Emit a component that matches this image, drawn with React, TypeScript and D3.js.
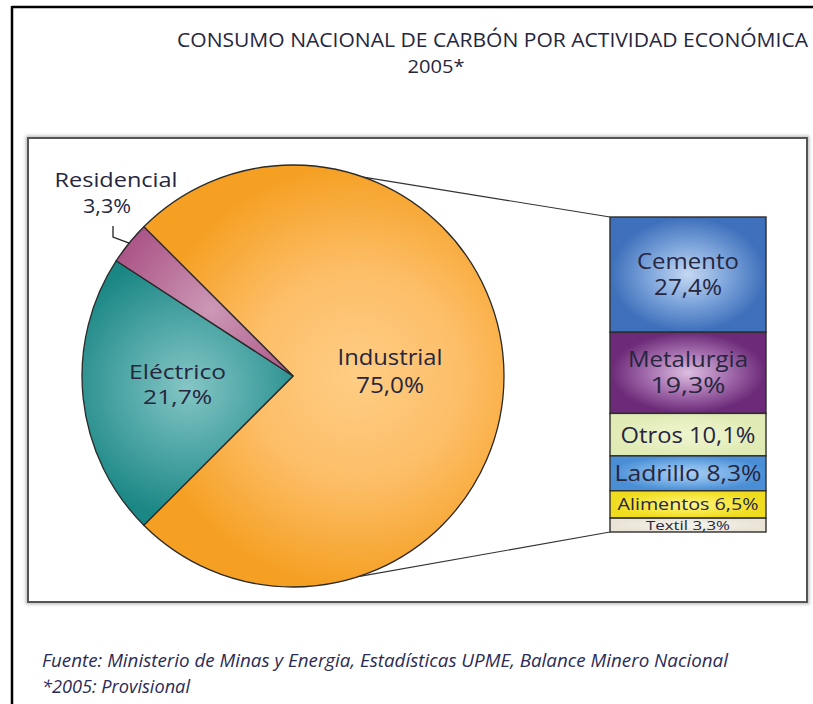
import React from "react";
import * as d3 from "d3";

const mainCategories = ["Industrial", "Eléctrico", "Residencial"];
const mainValues = [75.0, 21.7, 3.3];
const mainLabels = ["75,0%", "21,7%", "3,3%"];

const subCategories = ["Cemento", "Metalurgia", "Otros", "Ladrillo", "Alimentos", "Textil"];
const subValues = [27.4, 19.3, 10.1, 8.3, 6.5, 3.3];
const subLabels = ["27,4%", "19,3%", "10,1%", "8,3%", "6,5%", "3,3%"];

const titleText = "CONSUMO NACIONAL DE CARBÓN POR ACTIVIDAD ECONÓMICA";
const subtitleText = "2005*";
const sourceText = "Fuente: Ministerio de Minas y Energia, Estadísticas UPME, Balance Minero Nacional";
const noteText = "*2005: Provisional";

const W = 813;
const H = 704;
const FONT = "'Open Sans', 'Noto Sans', sans-serif";
const TEXT = "#26263f";

const pieFill = [
  { id: "gInd", inner: "#fecd84", mid: "#fdbe68", outer: "#f5a023" },
  { id: "gEle", inner: "#84c6c5", mid: "#4fa7a6", outer: "#1b8785" },
  { id: "gRes", inner: "#cc98b6", mid: "#b86e98", outer: "#a2457c" },
];
const boxFill = [
  { id: "bCem", inner: "#c4d8f2", mid: "#7fa6dc", outer: "#3e70bb" },
  { id: "bMet", inner: "#dcbde0", mid: "#a772b0", outer: "#6c2a78" },
  { id: "bOtr", inner: "#eef4cc", mid: "#e9f1c4", outer: "#dfeab4" },
  { id: "bLad", inner: "#a9cdf1", mid: "#7db3e8", outer: "#4a8fd6" },
  { id: "bAli", inner: "#fff58a", mid: "#f8ea4c", outer: "#f0dc1e" },
  { id: "bTex", inner: "#f5f2ea", mid: "#f0ece2", outer: "#e9e4d6" },
];
const boxFont = [21, 21, 22, 21, 16, 13];
const boxTextLen = [[102, 68], [120, 75], [135], [147], [141], [84]];

export default function App() {
  const cx = 293;
  const cy = 376;
  const r = 211;

  const pie = d3
    .pie<number>()
    .sort(null)
    .startAngle(-Math.PI / 4)
    .endAngle((7 * Math.PI) / 4)(mainValues);
  const arc = d3.arc<d3.PieArcDatum<number>>().innerRadius(0).outerRadius(r);

  const total = d3.sum(subValues);
  const y = d3.scaleLinear().domain([0, total]).range([217, 532]);
  const x0 = 610;
  const x1 = 766;
  const cum = [0, ...d3.cumsum(subValues)];

  const pTop = d3.pointRadial((19.5 * Math.PI) / 180, r);
  const pBot = d3.pointRadial((162 * Math.PI) / 180, r);

  const res = pie[2];
  const resMid = (res.startAngle + res.endAngle) / 2;
  const resPt = d3.pointRadial(resMid, r);

  return (
    <svg
      width={W}
      height={H}
      style={{ position: "absolute", left: 0, top: 0, background: "#fff" }}
      xmlns="http://www.w3.org/2000/svg"
    >
      <defs>
        {pieFill.map((g, i) => {
          const c = d3.pointRadial(
            (pie[i].startAngle + pie[i].endAngle) / 2,
            i === 0 ? r * 0.3 : r * 0.5
          );
          return (
            <radialGradient
              key={g.id}
              id={g.id}
              gradientUnits="userSpaceOnUse"
              cx={c[0]}
              cy={c[1]}
              r={i === 0 ? r * 1.0 : r * 0.62}
            >
              <stop offset="0%" stopColor={g.inner} />
              <stop offset="50%" stopColor={g.mid} />
              <stop offset="100%" stopColor={g.outer} />
            </radialGradient>
          );
        })}
        {boxFill.map((g) => (
          <radialGradient key={g.id} id={g.id} cx="50%" cy="50%" r="62%">
            <stop offset="0%" stopColor={g.inner} />
            <stop offset="40%" stopColor={g.mid} />
            <stop offset="80%" stopColor={g.outer} />
          </radialGradient>
        ))}
        <filter id="blur" x="-5%" y="-5%" width="110%" height="110%">
          <feGaussianBlur stdDeviation="1.5" />
        </filter>
      </defs>

      <rect x={0} y={0} width={W} height={H} fill="#fff" />

      {/* outer frame */}
      <line x1={12} y1={7} x2={W} y2={7} stroke="#000" strokeWidth={2.5} />
      <line x1={12} y1={6} x2={12} y2={H} stroke="#000" strokeWidth={2.5} />

      {/* title */}
      <text
        x={177}
        y={47}
        fontFamily={FONT}
        fontSize={20}
        fill={TEXT}
        textLength={631}
        lengthAdjust="spacingAndGlyphs"
      >
        {titleText}
      </text>
      <text
        x={436}
        y={73}
        fontFamily={FONT}
        fontSize={18}
        fill={TEXT}
        textAnchor="middle"
        textLength={57}
        lengthAdjust="spacingAndGlyphs"
      >
        {subtitleText}
      </text>

      {/* inner chart box */}
      <rect x={28} y={138} width={779} height={464} fill="none" stroke="#999" strokeWidth={5} opacity={0.6} filter="url(#blur)" />
      <rect x={28} y={138} width={779} height={464} fill="#fff" stroke="#555" strokeWidth={2} />

      {/* connectors */}
      <line x1={cx + pTop[0]} y1={cy + pTop[1]} x2={x0} y2={y(0)} stroke="#333" strokeWidth={1.2} />
      <line x1={cx + pBot[0]} y1={cy + pBot[1]} x2={x0} y2={y(total)} stroke="#333" strokeWidth={1.2} />

      {/* pie */}
      <g transform={`translate(${cx},${cy})`}>
        {pie.map((d, i) => (
          <path key={mainCategories[i]} d={arc(d) || ""} fill={`url(#${pieFill[i].id})`} stroke="#2a2a2a" strokeWidth={1.3} />
        ))}
        {pie.slice(0, 2).map((d, i) => {
          const lr = i === 0 ? r * 0.46 : r * 0.55;
          const c = d3.pointRadial((d.startAngle + d.endAngle) / 2, lr);
          const fs = i === 0 ? 21 : 20;
          const gap = i === 0 ? 28 : 25;
          return (
            <g key={"lbl" + i} fontFamily={FONT} fontSize={fs} fill={TEXT} textAnchor="middle">
              <text x={c[0]} y={c[1] - gap / 2 + 3} textLength={i === 0 ? 105 : 97} lengthAdjust="spacingAndGlyphs">
                {mainCategories[i]}
              </text>
              <text x={c[0]} y={c[1] + gap / 2 + 3} textLength={i === 0 ? 68 : 69} lengthAdjust="spacingAndGlyphs">
                {mainLabels[i]}
              </text>
            </g>
          );
        })}
        {/* Residencial leader */}
        <polyline
          points={`${-180},${-150} ${-180},${-139} ${resPt[0]},${resPt[1]}`}
          fill="none"
          stroke="#222"
          strokeWidth={1.3}
        />
        <g fontFamily={FONT} fontSize={20} fill={TEXT} textAnchor="middle">
          <text x={-177} y={-189} textLength={123} lengthAdjust="spacingAndGlyphs">
            {mainCategories[2]}
          </text>
          <text x={-186} y={-163} textLength={48} lengthAdjust="spacingAndGlyphs">
            {mainLabels[2]}
          </text>
        </g>
      </g>

      {/* breakdown boxes */}
      {subValues.map((v, i) => {
        const top = y(cum[i]);
        const bot = y(cum[i + 1]);
        const mid = (top + bot) / 2;
        const fs = boxFont[i];
        const lens = boxTextLen[i];
        const twoLine = i < 2;
        return (
          <g key={subCategories[i]}>
            <rect x={x0} y={top} width={x1 - x0} height={bot - top} fill={`url(#${boxFill[i].id})`} stroke="#2e2e2e" strokeWidth={1.4} />
            {twoLine ? (
              <g fontFamily={FONT} fontSize={fs} fill={TEXT} textAnchor="middle">
                <text x={(x0 + x1) / 2} y={mid - 6} textLength={lens[0]} lengthAdjust="spacingAndGlyphs">
                  {subCategories[i]}
                </text>
                <text x={(x0 + x1) / 2} y={mid + 20} textLength={lens[1]} lengthAdjust="spacingAndGlyphs">
                  {subLabels[i]}
                </text>
              </g>
            ) : (
              <text
                x={(x0 + x1) / 2}
                y={mid + fs * 0.36}
                fontFamily={FONT}
                fontSize={fs}
                fill={TEXT}
                textAnchor="middle"
                textLength={lens[0]}
                lengthAdjust="spacingAndGlyphs"
              >
                {`${subCategories[i]} ${subLabels[i]}`}
              </text>
            )}
          </g>
        );
      })}

      {/* footnotes */}
      <text x={42} y={667} fontFamily={FONT} fontStyle="italic" fontSize={18} fill="#2b2b55" textLength={686} lengthAdjust="spacingAndGlyphs">
        {sourceText}
      </text>
      <text x={42} y={693} fontFamily={FONT} fontStyle="italic" fontSize={18} fill="#2b2b55" textLength={148} lengthAdjust="spacingAndGlyphs">
        {noteText}
      </text>
    </svg>
  );
}
